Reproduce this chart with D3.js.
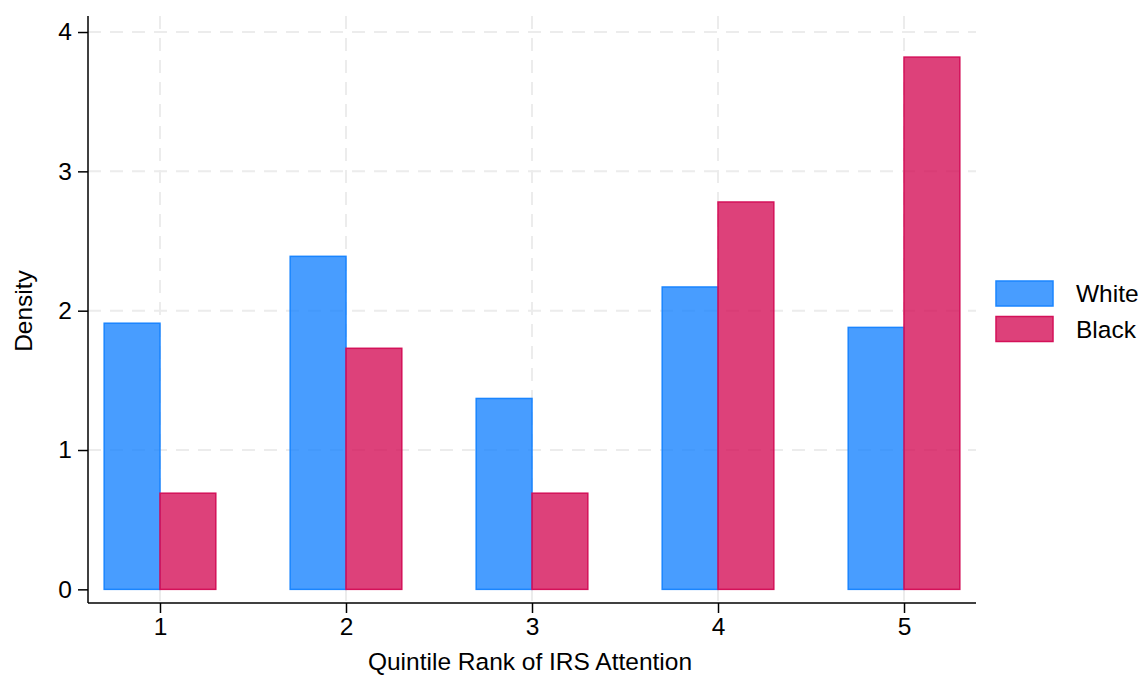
<!DOCTYPE html>
<html>
<head>
<meta charset="utf-8">
<script src="https://cdn.jsdelivr.net/npm/d3@7"></script>
<style>
  body { margin: 0; background: #fff; }
  text { font-family: "Liberation Sans", Arial, sans-serif; fill: #000; }
</style>
</head>
<body>
<svg class="hist" width="1142" height="675"></svg>
<script>
// data
var quintiles = [1, 2, 3, 4, 5];
var whiteDensity = [1.91, 2.39, 1.37, 2.17, 1.88];
var blackDensity = [0.69, 1.73, 0.69, 2.78, 3.82];
var yTicks = [0, 1, 2, 3, 4];
var seriesNames = ["White", "Black"];

var colors = { White: "#1a85ff", Black: "#d41159" };
var fontSize = "24.5px";

var svg = d3.select("svg.hist");

// scales - axes run a bit past the data range like the original
var x = d3.scaleLinear().domain([0.613, 5.387]).range([88, 976]);
var y = d3.scaleLinear().domain([-0.098, 4.115]).range([603, 16]);
var barW = 0.3;

// grid lines
var grid = svg.append("g");
grid.selectAll("line.h")
    .data(yTicks.filter(function(d) { return d > 0; }))
  .enter().append("line")
    .attr("x1", x.range()[0]).attr("x2", x.range()[1])
    .attr("y1", function(d) { return y(d); })
    .attr("y2", function(d) { return y(d); })
    .style("stroke", "#ececec").style("stroke-width", 2)
    .style("stroke-dasharray", "13,9");
grid.selectAll("line.v")
    .data(quintiles)
  .enter().append("line")
    .attr("x1", function(d) { return x(d); })
    .attr("x2", function(d) { return x(d); })
    .attr("y1", y.range()[1]).attr("y2", y.range()[0])
    .style("stroke", "#ececec").style("stroke-width", 2)
    .style("stroke-dasharray", "13,9");

// bars
function drawBars(vals, name, offset) {
    svg.append("g").selectAll("rect")
        .data(vals)
      .enter().append("rect")
        .attr("x", function(d, i) { return x(quintiles[i] + offset); })
        .attr("width", x(barW) - x(0))
        .attr("y", function(d) { return y(d); })
        .attr("height", function(d) { return y(0) - y(d); })
        .style("fill", colors[name])
        .style("fill-opacity", 0.8)
        .style("stroke", colors[name])
        .style("stroke-width", 1.5);
}
drawBars(whiteDensity, "White", -barW);
drawBars(blackDensity, "Black", 0);

// axes
var yAxis = svg.append("g")
    .attr("transform", "translate(" + x.range()[0] + ",0)")
    .call(d3.axisLeft(y).tickValues(yTicks).tickSize(10).tickPadding(6).tickFormat(d3.format("d")));
var xAxis = svg.append("g")
    .attr("transform", "translate(0," + y.range()[0] + ")")
    .call(d3.axisBottom(x).tickValues(quintiles).tickSize(10).tickPadding(5).tickFormat(d3.format("d")));
[xAxis, yAxis].forEach(function(a) {
    a.select(".domain").style("stroke", "#000").style("stroke-width", 1.5)
        .attr("d", a === xAxis ? "M" + x.range()[0] + ",0H" + x.range()[1]
                               : "M0," + y.range()[0] + "V" + y.range()[1]);
    a.selectAll(".tick line").style("stroke", "#000").style("stroke-width", 1.5);
    a.selectAll(".tick text").style("font-size", fontSize)
        .style("font-family", "'Liberation Sans', Arial, sans-serif").attr("fill", "#000");
});

// axis titles
svg.append("text")
    .attr("x", 530).attr("y", 670)
    .attr("text-anchor", "middle")
    .style("font-size", fontSize)
    .text("Quintile Rank of IRS Attention");
svg.append("text")
    .attr("transform", "translate(32,311) rotate(-90)")
    .attr("text-anchor", "middle")
    .style("font-size", fontSize)
    .text("Density");

// legend
var legend = svg.append("g").attr("transform", "translate(996,281)");
seriesNames.forEach(function(name, i) {
    var g = legend.append("g").attr("transform", "translate(0," + (i * 35.5) + ")");
    g.append("rect")
        .attr("width", 57).attr("height", 25)
        .style("fill", colors[name]).style("fill-opacity", 0.8)
        .style("stroke", colors[name]).style("stroke-width", 1.5);
    g.append("text")
        .attr("x", 80).attr("y", 12.5).attr("dy", "0.36em")
        .style("font-size", fontSize)
        .text(name);
});
</script>
</body>
</html>
